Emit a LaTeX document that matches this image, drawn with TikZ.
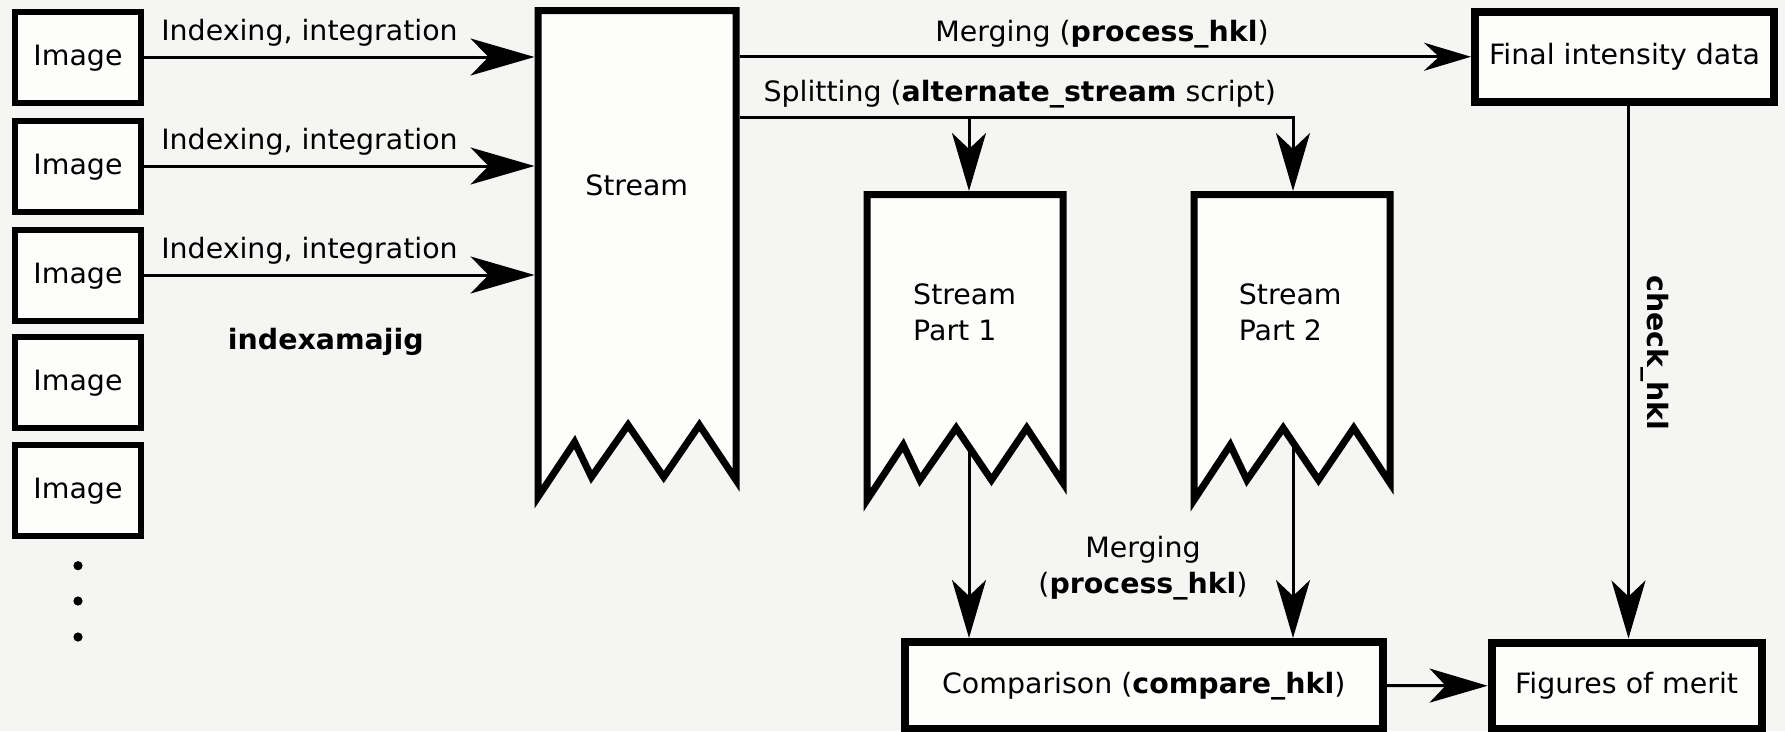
\documentclass[tikz,border=0pt]{standalone}
\usepackage{fontspec}
\setmainfont{DejaVu Sans}[FakeStretch=1.015]
\usetikzlibrary{arrows.meta}

\definecolor{paper}{HTML}{F5F5F3}
\definecolor{boxfill}{HTML}{FDFDFC}

% Outline of a stream document: straight top and sides, zigzag bottom.
% #1 left x, #2 top y, #3 width, #4 y of the zigzag peaks
\newcommand\streamoutline[4]{%
  \draw[streamline]
    (#1,{#4+72}) -- (#1,#2) -- ({#1+#3},#2) -- ({#1+#3},{#4+55})
    -- ({#1+0.815*#3},#4) -- ({#1+0.635*#3},{#4+52})
    -- ({#1+0.455*#3},#4) -- ({#1+0.27*#3},{#4+52})
    -- ({#1+0.185*#3},{#4+17}) -- cycle;}

\begin{document}
\begin{tikzpicture}[x=1pt,y=-1pt,
  every node/.style={font=\fontsize{28}{36}\selectfont},
  box/.style={draw, fill=boxfill, inner sep=0pt, text height=21pt, text depth=5pt},
  imgbox/.style={box, line width=6pt, minimum width=126.6pt, minimum height=91pt},
  databox/.style={box, line width=8pt},
  streamline/.style={draw, fill=boxfill, line width=7pt, miter limit=10},
  streamarea/.style={inner sep=0pt, outer sep=3.5pt},
  lbl/.style={inner sep=0pt},
  dotmark/.style={circle, fill, inner sep=0pt, minimum size=9.2pt},
  flow/.style={line width=3pt},
  intip/.style={flow, -{Stealth[length=64pt,width=37pt,inset=18pt]}},
  bigtip/.style={flow, -{Stealth[length=58pt,width=34pt,inset=16pt]}},
  smalltip/.style={flow, -{Stealth[length=47pt,width=28pt,inset=15pt]}},
]
\fill[paper] (0,0) rectangle (1785,731);
\useasboundingbox (0,0) rectangle (1785,731);

% input images
\node[imgbox] (img1) at (78,57)    {Image};
\node[imgbox] (img2) at (78,166)   {Image};
\node[imgbox] (img3) at (78,275)   {Image};
\node[imgbox] (img4) at (78,382.5) {Image};
\node[imgbox] (img5) at (78,490.5) {Image};
\node[dotmark] (dot1) at (78,565.7) {};
\node[dotmark] (dot2) at (78,601)   {};
\node[dotmark] (dot3) at (78,637)   {};

% stream documents
\streamoutline{538}{10.5}{198}{425}
\streamoutline{867}{194.5}{196}{428}
\streamoutline{1194}{194.5}{196}{428}
\node[streamarea, minimum width=198pt, minimum height=414.5pt] (stream) at (637,217.75) {};
\node[streamarea, minimum width=196pt, minimum height=233.5pt] (part1) at (965,311.25) {};
\node[streamarea, minimum width=196pt, minimum height=233.5pt] (part2) at (1292,311.25) {};
\node[lbl, anchor=base] (streamtxt) at (636.7,195) {Stream};
% the base anchor of a two-line label sits on its last line
\node[lbl, anchor=base west, align=left] (part1txt) at (913,340.6) {Stream\\Part 1};
\node[lbl, anchor=base west, align=left] (part2txt) at (1238.6,340.6) {Stream\\Part 2};

% result boxes
\node[databox, minimum width=299pt, minimum height=89.5pt] (final) at (1624.5,56.75) {Final intensity data};
\node[databox, minimum width=478.5pt, minimum height=87pt] (comp) at (1143.75,685.5) {Comparison (\textbf{compare\_hkl})};
\node[databox, minimum width=270pt, minimum height=86.5pt] (figs) at (1626.6,685.75) {Figures of merit};

% indexing and integration
\draw[intip] (img1.east) -- (img1.east -| stream.west);
\draw[intip] (img2.east) -- (img2.east -| stream.west);
\draw[intip] (img3.east) -- (img3.east -| stream.west);
\node[lbl, anchor=base] (idx1) at (309.5,40.5)  {Indexing, integration};
\node[lbl, anchor=base] (idx2) at (309.5,149.5) {Indexing, integration};
\node[lbl, anchor=base] (idx3) at (309.5,258.5) {Indexing, integration};
\node[lbl, anchor=base] (indexamajig) at (325.8,349.3) {\textbf{indexamajig}};

% merging into the final data
\draw[smalltip] (stream.east |- final.west) -- (final.west);
\node[lbl, anchor=base] (mergetop) at (1102,41.5) {Merging (\textbf{process\_hkl})};

% splitting into two halves
\coordinate (splitturn) at (1293,117.3);
\coordinate (splitbranch) at (969,117.3);
\draw[bigtip] (stream.east |- splitturn) -- (splitturn) -- (splitturn |- part2.north);
\draw[bigtip] (splitbranch) -- (splitbranch |- part1.north);
\node[lbl, anchor=base west] (splittxt) at (763.3,101.7) {Splitting (\textbf{alternate\_stream} script)};

% merging the halves and comparing
\coordinate (zig1) at (969,446.9);
\coordinate (zig2) at (1293,442.4);
\draw[bigtip] (zig1) -- (zig1 |- comp.north);
\draw[bigtip] (zig2) -- (zig2 |- comp.north);
\node[lbl, anchor=base, align=center] (mergelow) at (1143,593) {Merging\\(\textbf{process\_hkl})};

% figures of merit
\draw[bigtip] ([xshift=4pt]final.south) -- ([xshift=4pt]final.south |- figs.north);
\node[lbl, rotate=-90] (checktxt) at (1655,353) {\textbf{check\_hkl}};
\draw[bigtip] (comp.east) -- (figs.west);
\end{tikzpicture}
\end{document}
